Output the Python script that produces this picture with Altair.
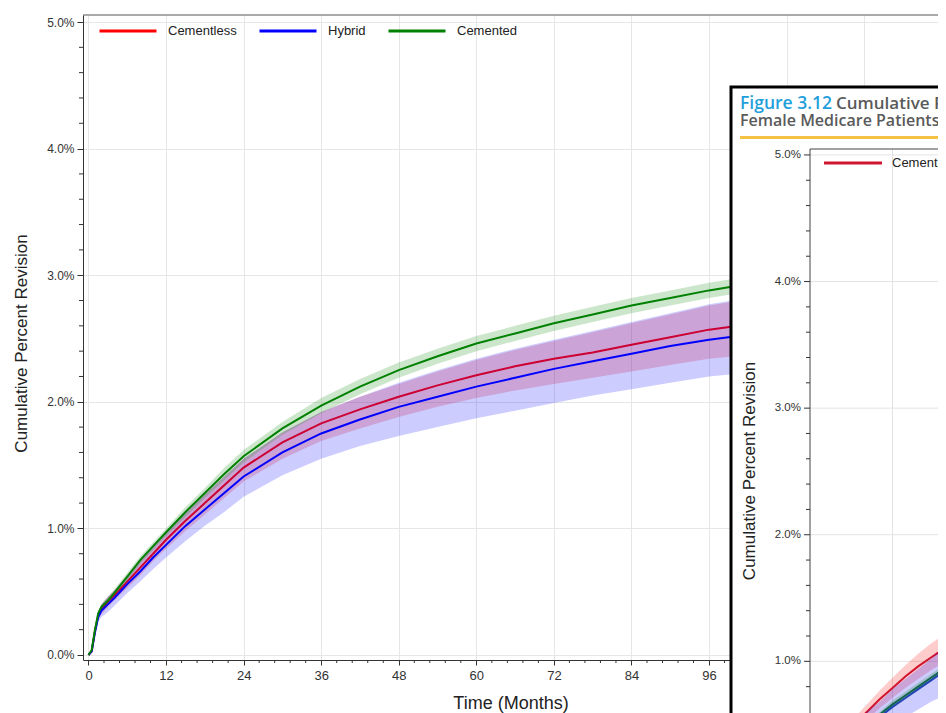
import altair as alt
import pandas as pd

# ---------------- main chart data ----------------
months = [0, 0.5, 1, 1.5, 2, 3, 4, 6, 8, 10, 12, 15, 18, 21, 24, 30, 36, 42, 48, 54, 60, 66, 72, 78, 84, 90, 96, 102]

cementless    = [0, 0.03, 0.19, 0.31, 0.36, 0.42, 0.47, 0.58, 0.69, 0.80, 0.91, 1.06, 1.20, 1.34, 1.48, 1.68, 1.83, 1.94, 2.04, 2.13, 2.21, 2.28, 2.34, 2.39, 2.45, 2.51, 2.57, 2.61]
cementless_lo = [0, 0.02, 0.16, 0.28, 0.32, 0.38, 0.43, 0.53, 0.63, 0.74, 0.84, 0.98, 1.11, 1.24, 1.37, 1.55, 1.69, 1.79, 1.88, 1.96, 2.03, 2.09, 2.14, 2.19, 2.24, 2.29, 2.34, 2.37]
cementless_hi = [0, 0.04, 0.22, 0.34, 0.40, 0.46, 0.51, 0.63, 0.75, 0.86, 0.97, 1.13, 1.27, 1.41, 1.55, 1.76, 1.92, 2.04, 2.14, 2.24, 2.33, 2.41, 2.48, 2.55, 2.62, 2.69, 2.76, 2.81]

hybrid    = [0, 0.03, 0.18, 0.30, 0.35, 0.40, 0.45, 0.56, 0.66, 0.77, 0.87, 1.02, 1.15, 1.28, 1.41, 1.60, 1.75, 1.86, 1.96, 2.04, 2.12, 2.19, 2.26, 2.32, 2.38, 2.44, 2.49, 2.53]
hybrid_lo = [0, 0.02, 0.14, 0.26, 0.30, 0.34, 0.39, 0.49, 0.58, 0.68, 0.77, 0.90, 1.02, 1.13, 1.25, 1.42, 1.55, 1.65, 1.73, 1.80, 1.87, 1.93, 1.99, 2.05, 2.10, 2.15, 2.20, 2.23]
hybrid_hi = [0, 0.04, 0.22, 0.34, 0.40, 0.46, 0.51, 0.63, 0.74, 0.86, 0.97, 1.13, 1.27, 1.41, 1.55, 1.76, 1.92, 2.04, 2.15, 2.25, 2.34, 2.42, 2.49, 2.56, 2.63, 2.70, 2.77, 2.82]

cemented    = [0, 0.04, 0.20, 0.33, 0.38, 0.43, 0.49, 0.62, 0.75, 0.86, 0.97, 1.13, 1.28, 1.43, 1.57, 1.79, 1.97, 2.12, 2.25, 2.36, 2.46, 2.54, 2.62, 2.69, 2.76, 2.82, 2.88, 2.93]
cemented_lo = [0, 0.03, 0.18, 0.31, 0.36, 0.41, 0.47, 0.59, 0.72, 0.83, 0.94, 1.09, 1.24, 1.38, 1.52, 1.74, 1.91, 2.06, 2.19, 2.30, 2.40, 2.48, 2.56, 2.63, 2.70, 2.76, 2.82, 2.87]
cemented_hi = [0, 0.05, 0.22, 0.35, 0.40, 0.46, 0.52, 0.65, 0.78, 0.89, 1.00, 1.17, 1.32, 1.48, 1.62, 1.84, 2.03, 2.18, 2.31, 2.42, 2.52, 2.60, 2.68, 2.75, 2.82, 2.88, 2.94, 2.99]

series_names = ["Cementless", "Hybrid", "Cemented"]
series_colors = ["#ff0000", "#0000ff", "#008000"]

x_ticks = [0, 12, 24, 36, 48, 60, 72, 84, 96, 108, 120]
x_minor = [2.4, 4.8, 7.2, 9.6, 14.4, 16.8, 19.2, 21.6, 26.4, 28.8, 31.2, 33.6,
           38.4, 40.8, 43.2, 45.6, 50.4, 52.8, 55.2, 57.6, 62.4, 64.8, 67.2, 69.6,
           74.4, 76.8, 79.2, 81.6, 86.4, 88.8, 91.2, 93.6, 98.4]
y_ticks = [0, 1, 2, 3, 4, 5]
y_minor = [0.2, 0.4, 0.6, 0.8, 1.2, 1.4, 1.6, 1.8, 2.2, 2.4, 2.6, 2.8,
           3.2, 3.4, 3.6, 3.8, 4.2, 4.4, 4.6, 4.8]

# ---------------- overlapping figure (Figure 3.12) data ----------------
ov_months = [4, 6, 8, 10, 12, 14, 16, 18, 20, 22]
ov_cementless    = [0.40, 0.50, 0.60, 0.70, 0.79, 0.88, 0.96, 1.03, 1.10, 1.17]
ov_cementless_lo = [0.36, 0.45, 0.54, 0.63, 0.71, 0.79, 0.86, 0.93, 0.99, 1.05]
ov_cementless_hi = [0.44, 0.55, 0.66, 0.77, 0.87, 0.97, 1.06, 1.14, 1.21, 1.29]
ov_hybrid    = [0.35, 0.42, 0.49, 0.56, 0.64, 0.71, 0.78, 0.85, 0.92, 0.98]
ov_hybrid_lo = [0.27, 0.33, 0.38, 0.44, 0.50, 0.56, 0.62, 0.68, 0.73, 0.78]
ov_hybrid_hi = [0.43, 0.51, 0.60, 0.68, 0.78, 0.86, 0.94, 1.02, 1.11, 1.18]
ov_cemented    = [0.37, 0.44, 0.51, 0.58, 0.66, 0.73, 0.80, 0.87, 0.94, 1.00]
ov_cemented_lo = [0.35, 0.42, 0.49, 0.56, 0.63, 0.70, 0.77, 0.84, 0.91, 0.97]
ov_cemented_hi = [0.39, 0.46, 0.53, 0.60, 0.69, 0.76, 0.83, 0.90, 0.97, 1.03]
ov_colors = ["#d0152e", "#2a35e0", "#11664f"]
ov_y_ticks = [1, 2, 3, 4, 5]
ov_y_labels = ["1.0%", "2.0%", "3.0%", "4.0%", "5.0%"]
ov_y_minor = [0.8, 1.2, 1.4, 1.6, 1.8, 2.2, 2.4, 2.6, 2.8, 3.2, 3.4, 3.6, 3.8, 4.2, 4.4, 4.6, 4.8]
ov_x_grid = [12, 24]

# ---------------- tables ----------------
def make_df(ms, groups):
    rows = []
    for name, est, lo, hi in groups:
        for m, e, l, h in zip(ms, est, lo, hi):
            rows.append({"series": name, "month": m, "est": e, "lo": l, "hi": h})
    return pd.DataFrame(rows)

df = make_df(months, [
    ("Cementless", cementless, cementless_lo, cementless_hi),
    ("Hybrid", hybrid, hybrid_lo, hybrid_hi),
    ("Cemented", cemented, cemented_lo, cemented_hi),
])
ov_df = make_df(ov_months, [
    ("Cementless", ov_cementless, ov_cementless_lo, ov_cementless_hi),
    ("Hybrid", ov_hybrid, ov_hybrid_lo, ov_hybrid_hi),
    ("Cemented", ov_cemented, ov_cemented_lo, ov_cemented_hi),
])
ov_ticks_df = pd.DataFrame({"v": ov_y_ticks, "label": ov_y_labels})
one = pd.DataFrame({"a": [0]})

FONT = "Liberation Sans"
W, H = 855, 645
FAR = 900  # beyond the right edge

# ---------------- main chart ----------------
x_scale = alt.Scale(domain=[-0.85, 131.42], nice=False, zero=False)
y_scale = alt.Scale(domain=[-0.0395, 5.0553], nice=False, zero=False)
x_axis = alt.Axis(values=x_ticks, grid=True, gridColor="#e6e6e6", tickSize=5, labelPadding=4,
                  labelFontSize=13, labelColor="#333", domainColor="#333", tickColor="#333",
                  title="Time (Months)", titleFontSize=18, titleFontWeight="normal",
                  titleColor="#222", titlePadding=12, labelFont=FONT, titleFont=FONT)
y_axis = alt.Axis(values=y_ticks, grid=True, gridColor="#e6e6e6", tickSize=6, labelPadding=3,
                  labelExpr="format(datum.value, '.1f') + '%'",
                  labelFontSize=12, labelColor="#333", domainColor="#333", tickColor="#333",
                  title="Cumulative Percent Revision", titleFontSize=17, titleFontWeight="normal",
                  titleColor="#222", titlePadding=16, titleY=328, labelFont=FONT, titleFont=FONT)

X = alt.X("month:Q", scale=x_scale, axis=x_axis)


def band(name, color):
    return alt.Chart(df).transform_filter(alt.datum.series == name).mark_area(
        color=color, opacity=0.2).encode(
        x=X, y=alt.Y("lo:Q", scale=y_scale, axis=y_axis), y2="hi:Q")


def line(name):
    return alt.Chart(df).transform_filter(alt.datum.series == name).mark_line(
        strokeWidth=2).encode(
        x=X, y=alt.Y("est:Q", scale=y_scale, axis=y_axis),
        color=alt.Color("series:N", scale=alt.Scale(domain=series_names, range=series_colors),
                        legend=alt.Legend(title=None, orient="none", legendX=15, legendY=-14,
                                          direction="horizontal", symbolType="stroke",
                                          symbolSize=3249, symbolStrokeWidth=3,
                                          labelFontSize=13, labelFont=FONT, labelColor="#222",
                                          labelOffset=10, columnPadding=16, padding=0)))


top_line = alt.Chart(one).mark_rule(color="#555").encode(
    x=alt.value(0), x2=alt.value(W), y=alt.value(0))
x_minor_ticks = alt.Chart(pd.DataFrame({"m": x_minor})).mark_rule(color="#333").encode(
    x=alt.X("m:Q", scale=x_scale, axis=x_axis), y=alt.value(H), y2=alt.value(H + 3))
y_minor_ticks = alt.Chart(pd.DataFrame({"v": y_minor})).mark_rule(color="#333").encode(
    y=alt.Y("v:Q", scale=y_scale, axis=y_axis), x=alt.value(-4), x2=alt.value(0))

main = alt.layer(
    top_line, x_minor_ticks, y_minor_ticks,
    band("Cementless", "#ff0000"), line("Cementless"),
    band("Hybrid", "#0000ff"), line("Hybrid"),
    band("Cemented", "#008000"), line("Cemented"),
)

# ---------------- overlapping figure ----------------
OX0 = 727   # overlay y-axis position (plot px)
OY0 = 134   # overlay plot top (plot px)
ov_x_scale = alt.Scale(domain=[0, 12], range=[732.5, 809.5], nice=False, zero=False)
ov_y_scale = alt.Scale(domain=[-0.04, 5.047], range=[778, OY0], nice=False, zero=False)
OXe = alt.X("month:Q", scale=ov_x_scale, axis=None)
OYv = alt.Y("v:Q", scale=ov_y_scale, axis=None)

box = alt.Chart(one).mark_rect(fill="white", stroke="black", strokeWidth=3).encode(
    x=alt.value(648), x2=alt.value(FAR), y=alt.value(72), y2=alt.value(730))
yellow = alt.Chart(one).mark_rule(color="#f5c243", strokeWidth=3).encode(
    x=alt.value(657), x2=alt.value(FAR), y=alt.value(122.5))
t1 = alt.Chart(one).mark_text(text="Figure 3.12", align="left", baseline="alphabetic",
                              font="Open Sans", fontWeight=600, fontSize=17.5,
                              color="#1fa0db").encode(x=alt.value(657), y=alt.value(94))
t2 = alt.Chart(one).mark_text(text="Cumulative Pe", align="left",
                              baseline="alphabetic", font="Open Sans", fontWeight=600,
                              fontSize=17, color="#5a5a5a").encode(x=alt.value(753), y=alt.value(94))
t3 = alt.Chart(one).mark_text(text="Female Medicare Patients (", align="left",
                              baseline="alphabetic", font="Open Sans", fontWeight=600,
                              fontSize=16, color="#5a5a5a").encode(x=alt.value(657), y=alt.value(111))
ov_grid_h = alt.Chart(ov_ticks_df).mark_rule(color="#e3e3e3").encode(
    y=OYv, x=alt.value(OX0), x2=alt.value(FAR))
ov_grid_v = alt.Chart(pd.DataFrame({"month": ov_x_grid})).mark_rule(color="#e3e3e3").encode(
    x=OXe, y=alt.value(OY0), y2=alt.value(730))
ov_frame = alt.Chart(one).mark_rect(fillOpacity=0, stroke="#444", strokeWidth=1).encode(
    x=alt.value(OX0), x2=alt.value(FAR), y=alt.value(OY0), y2=alt.value(730))
ov_major = alt.Chart(ov_ticks_df).mark_rule(color="#333").encode(
    y=OYv, x=alt.value(OX0 - 6), x2=alt.value(OX0))
ov_minor = alt.Chart(pd.DataFrame({"v": ov_y_minor})).mark_rule(color="#333").encode(
    y=OYv, x=alt.value(OX0 - 4), x2=alt.value(OX0))
ov_labels = alt.Chart(ov_ticks_df).mark_text(align="right", baseline="middle", font=FONT,
                                             fontSize=11.5, color="#333").encode(
    y=OYv, x=alt.value(OX0 - 9), text="label:N")


def ov_band(name, color):
    return alt.Chart(ov_df).transform_filter(alt.datum.series == name).mark_area(
        color=color, opacity=0.2).encode(
        x=OXe, y=alt.Y("lo:Q", scale=ov_y_scale, axis=None), y2="hi:Q")


def ov_line(name, color):
    return alt.Chart(ov_df).transform_filter(alt.datum.series == name).mark_line(
        color=color, strokeWidth=2).encode(
        x=OXe, y=alt.Y("est:Q", scale=ov_y_scale, axis=None))


ov_leg_line = alt.Chart(one).mark_rule(color=ov_colors[0], strokeWidth=3).encode(
    x=alt.value(741), x2=alt.value(799), y=alt.value(148))
ov_leg_text = alt.Chart(one).mark_text(text="Cementle", align="left", baseline="middle",
                                       font=FONT, fontSize=13, color="#222").encode(
    x=alt.value(809), y=alt.value(148))
ov_ytitle = alt.Chart(one).mark_text(text="Cumulative Percent Revision", angle=270,
                                     align="center", baseline="middle", font=FONT,
                                     fontSize=17, color="#222").encode(
    x=alt.value(667), y=alt.value(456))

overlay = alt.layer(
    box, yellow, t1, t2, t3, ov_grid_h, ov_grid_v, ov_frame,
    ov_band("Cementless", "#ff0000"), ov_line("Cementless", ov_colors[0]),
    ov_band("Hybrid", "#0000ff"), ov_line("Hybrid", ov_colors[1]),
    ov_band("Cemented", "#008000"), ov_line("Cemented", ov_colors[2]),
    ov_major, ov_minor, ov_labels, ov_leg_line, ov_leg_text, ov_ytitle,
)

chart = alt.layer(main, overlay).resolve_scale(
    x="independent", y="independent"
).properties(
    width=W, height=H,
    padding={"left": 75, "top": 7, "right": 0, "bottom": 53},
    autosize=alt.AutoSizeParams(type="none"),
).configure_view(stroke="transparent")

chart.save("out.html", embed_options={"renderer": "svg", "actions": False})
